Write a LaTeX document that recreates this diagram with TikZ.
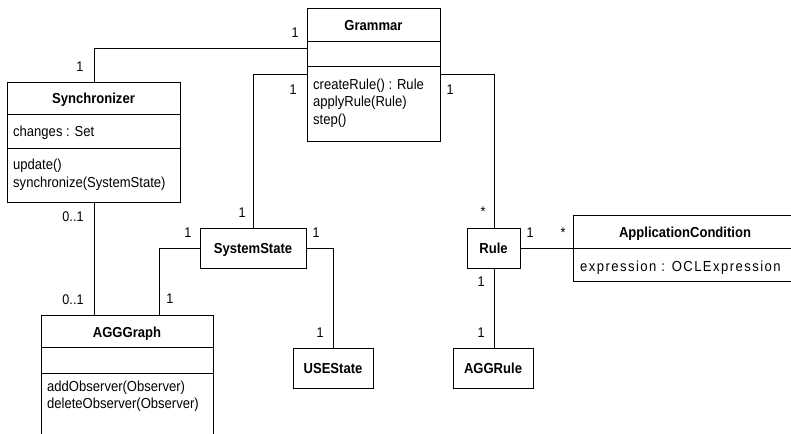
\documentclass[tikz,border=0pt]{standalone}
\usepackage{fontspec}
\setmainfont{Liberation Sans}[FakeStretch=0.9]
\newfontfamily\spacedfont{Liberation Sans}[FakeStretch=0.9,LetterSpace=10]
\begin{document}
\begin{tikzpicture}[x=1pt,y=-1pt,
  cls/.style={draw, line width=1pt, rectangle, inner sep=0pt, anchor=north west},
  title/.style={font=\fontsize{14.5}{16}\selectfont\bfseries, inner sep=0pt, anchor=base},
  txt/.style={font=\fontsize{14.5}{16}\selectfont, inner sep=0pt, anchor=base west},
  mult/.style={font=\fontsize{14}{16}\selectfont, inner sep=0pt},
  conn/.style={line width=1pt}]
\clip (0,0) rectangle (791,433);
\useasboundingbox (0,0) rectangle (791,433);
\fill[white] (0,0) rectangle (791,433);

% Grammar
\node[cls, minimum width=133pt, minimum height=133pt] (gram) at (307,8) {};
\draw[conn] (gram.west |- 0,42) -- (gram.east |- 0,42) (gram.west |- 0,67) -- (gram.east |- 0,67);
\node[title] (gramt) at (373.5,30.5) {Grammar};
\node[txt] (gramm1) at (313,89) {createRule() : Rule};
\node[txt] (gramm2) at (313,106.5) {applyRule(Rule)};
\node[txt] (gramm3) at (313,124) {step()};

% Synchronizer
\node[cls, minimum width=173pt, minimum height=120pt] (sync) at (7,82) {};
\draw[conn] (sync.west |- 0,114) -- (sync.east |- 0,114) (sync.west |- 0,148) -- (sync.east |- 0,148);
\node[title] (synct) at (93.5,103.5) {Synchronizer};
\node[txt] (synca) at (13,136.5) {changes : Set};
\node[txt] (syncm1) at (13,169) {update()};
\node[txt] (syncm2) at (13,187) {synchronize(SystemState)};

% SystemState
\node[cls, minimum width=106pt, minimum height=40pt] (ss) at (200,228) {};
\node[title] (sst) at (253,253.5) {SystemState};

% Rule
\node[cls, minimum width=53pt, minimum height=40pt] (rule) at (467,228) {};
\node[title] (rulet) at (493.5,253.5) {Rule};

% ApplicationCondition
\node[cls, minimum width=224pt, minimum height=66pt] (ac) at (573,215) {};
\draw[conn] (ac.west |- 0,248) -- (ac.east |- 0,248);
\node[title] (act) at (685,237.5) {ApplicationCondition};
\node[txt, font=\fontsize{14.5}{16}\spacedfont] (aca) at (580,271.5) {expression : OCLExpression};

% AGGGraph
\node[cls, minimum width=172pt, minimum height=130pt] (agg) at (41,315) {};
\draw[conn] (agg.west |- 0,347) -- (agg.east |- 0,347) (agg.west |- 0,373) -- (agg.east |- 0,373);
\node[title] (aggt) at (127,337.5) {AGGGraph};
\node[txt] (aggm1) at (47,391) {addObserver(Observer)};
\node[txt] (aggm2) at (47,408.5) {deleteObserver(Observer)};

% USEState
\node[cls, minimum width=80pt, minimum height=40pt] (use) at (293,348) {};
\node[title] (uset) at (333,373.5) {USEState};

% AGGRule
\node[cls, minimum width=80pt, minimum height=40pt] (aggr) at (453,348) {};
\node[title] (aggrt) at (493,373.5) {AGGRule};

% connectors
\draw[conn] ([yshift=26.5pt]gram.west) -| (sync.north);
\draw[conn] (gram.west) -| (ss.north);
\draw[conn] (gram.east) -| (rule.north);
\draw[conn] (sync.south) -- (sync.south |- agg.north);
\draw[conn] (ss.west) -| ([xshift=32pt]agg.north);
\draw[conn] (ss.east) -| (use.north);
\draw[conn] (rule.east) -- (rule.east -| ac.west);
\draw[conn] (rule.south) -- (rule.south |- aggr.north);

% multiplicities
\node[mult] at (295,33) {1};
\node[mult] at (80,67) {1};
\node[mult] at (293,90) {1};
\node[mult] at (242,213) {1};
\node[mult] at (450,90) {1};
\node[mult] at (483,212) {*};
\node[mult] at (73,217) {0..1};
\node[mult] at (73,300) {0..1};
\node[mult] at (188,233) {1};
\node[mult] at (170,299) {1};
\node[mult] at (316,233) {1};
\node[mult] at (320,333) {1};
\node[mult] at (530,233) {1};
\node[mult] at (563,233) {*};
\node[mult] at (481,282) {1};
\node[mult] at (481,333) {1};
\end{tikzpicture}
\end{document}
